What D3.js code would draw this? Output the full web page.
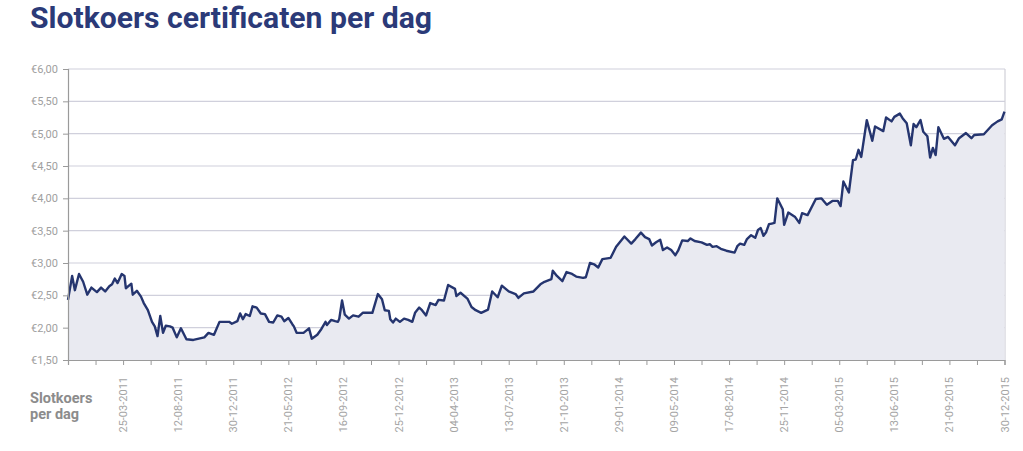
<!DOCTYPE html>
<html><head><meta charset="utf-8">
<script src="https://cdn.jsdelivr.net/npm/d3@7"></script>
<style>body{margin:0;background:#fff}svg{display:block}</style>
</head><body>
<svg id="c" width="1023" height="451"></svg>
<script>
// Observation index (half-week steps) and closing price in euro
const pointIndex = [0,3,5,8,11,14,17,21,24,27,30,32,34,36,39,41,42,46,47,50,53,55,58,61,63,65,67,69,71,74,76,79,82,86,91,95,99,102,106,110,117,119,123,125,127,129,132,134,137,140,143,146,149,152,155,157,160,163,164,166,
171,175,177,181,184,187,188,191,194,196,197,199,201,204,207,211,214,221,225,228,230,233,234,236,238,241,244,247,250,252,255,257,260,263,267,269,273,276,281,282,285,290,293,296,300,305,308,312,315,320,325,327,331,338,
343,346,351,352,355,359,362,366,369,374,376,379,382,385,388,394,398,404,409,412,416,419,422,424,427,430,432,435,438,441,443,446,450,452,455,460,464,466,468,471,474,478,484,486,488,491,493,496,499,501,503,505,507,509,
511,513,515,519,520,523,528,531,533,537,543,547,551,555,559,561,563,567,570,572,574,576,580,584,586,592,594,598,600,604,606,609,612,614,616,619,621,624,626,628,630,632,636,639,644,647,652,656,658,665,671,675,678,680];
const closePrice = [2.43,2.80,2.58,2.83,2.71,2.51,2.62,2.55,2.62,2.56,2.64,2.67,2.76,2.69,2.83,2.80,2.61,2.68,2.51,2.57,2.48,2.38,2.27,2.09,2.02,1.87,2.18,1.92,2.03,2.02,2.00,1.85,1.99,1.82,1.81,1.83,1.85,1.92,1.89,2.09,2.09,2.06,2.10,2.22,2.13,2.21,2.18,2.33,2.31,2.22,2.21,2.09,2.08,2.19,2.17,2.10,2.15,2.05,2.02,1.92,
1.92,1.99,1.83,1.89,1.98,2.09,2.04,2.12,2.10,2.09,2.14,2.42,2.20,2.14,2.19,2.17,2.23,2.23,2.52,2.44,2.27,2.26,2.13,2.08,2.14,2.09,2.14,2.12,2.09,2.23,2.31,2.27,2.19,2.38,2.35,2.43,2.42,2.66,2.60,2.49,2.54,2.45,2.32,2.27,2.23,2.28,2.56,2.47,2.65,2.56,2.52,2.46,2.53,2.56,
2.67,2.71,2.75,2.88,2.80,2.72,2.86,2.83,2.79,2.77,2.78,3.00,2.98,2.93,3.06,3.08,3.25,3.41,3.30,3.37,3.47,3.40,3.37,3.27,3.32,3.36,3.20,3.24,3.20,3.12,3.19,3.35,3.34,3.38,3.34,3.32,3.28,3.29,3.25,3.26,3.22,3.19,3.16,3.26,3.30,3.28,3.37,3.43,3.39,3.51,3.54,3.42,3.48,3.60,
3.61,3.62,4.00,3.83,3.59,3.78,3.71,3.62,3.77,3.74,3.99,4.00,3.90,3.96,3.96,3.88,4.26,4.09,4.59,4.60,4.75,4.64,5.21,4.89,5.11,5.04,5.25,5.19,5.26,5.31,5.24,5.16,4.82,5.15,5.10,5.21,5.03,4.96,4.63,4.78,4.67,5.10,4.92,4.95,4.82,4.93,5.01,4.93,4.98,4.99,5.13,5.19,5.22,5.34];

const yTickValues = [1.5,2,2.5,3,3.5,4,4.5,5,5.5,6];
const xTickIndex = d3.range(0, 681, 20);
const xLabelIndex = d3.range(40, 681, 40);
const xLabels = ["25-03-2011","12-08-2011","30-12-2011","21-05-2012","16-09-2012","25-12-2012","04-04-2013","13-07-2013","21-10-2013","29-01-2014","09-05-2014","17-08-2014","25-11-2014","05-03-2015","13-06-2015","21-09-2015","30-12-2015"];

const data = pointIndex.map((d,i)=>({i:d, v:closePrice[i]}));
const svg = d3.select("#c");
const L = 68, R = 1005, T = 69, B = 360;
const x = d3.scaleLinear().domain([0,680]).range([L, 1004.5]);
const y = d3.scaleLinear().domain([1.5,6]).range([B, T]);
const font = "Roboto, 'DejaVu Sans', sans-serif";

svg.append("text").attr("x",30).attr("y",27.5).attr("font-family",font).attr("font-weight",700)
  .attr("font-size",30).attr("fill","#2b3a78").attr("textLength",402).attr("lengthAdjust","spacingAndGlyphs")
  .text("Slotkoers certificaten per dag");

// grid
svg.append("g").selectAll("line").data(yTickValues.slice(1)).join("line")
  .attr("x1",L).attr("x2",R).attr("y1",d=>y(d)).attr("y2",d=>y(d))
  .attr("stroke","#d0d0dc").attr("stroke-width",1.2);
svg.append("line").attr("x1",R).attr("x2",R).attr("y1",T).attr("y2",B).attr("stroke","#d0d0d8").attr("stroke-width",1.2);

// area + line
svg.append("path").datum(data).attr("fill","#e9eaf1")
  .attr("d",d3.area().x(d=>x(d.i)).y0(B).y1(d=>y(d.v)));
svg.append("path").datum(data).attr("fill","none").attr("stroke","#25356f").attr("stroke-width",2.4)
  .attr("stroke-linejoin","round")
  .attr("d",d3.line().x(d=>x(d.i)).y(d=>y(d.v)));

// y axis
const ya = svg.append("g").attr("transform",`translate(${L},0)`)
  .call(d3.axisLeft(y).tickValues(yTickValues).tickSize(5).tickPadding(5)
  .tickFormat(d=>"€"+d3.format(".2f")(d).replace(".",",")));
ya.select(".domain").attr("stroke","#9a9a9a").attr("stroke-width",1.2);
ya.selectAll(".tick line").attr("stroke","#9a9a9a");
ya.selectAll("text").attr("font-family",font).attr("font-size",11).attr("fill","#a0a0a0");

// x axis
const xa = svg.append("g").attr("transform",`translate(0,${B})`)
  .call(d3.axisBottom(x).tickValues(xTickIndex).tickSize(5).tickFormat(""));
xa.select(".domain").attr("stroke","#9a9a9a").attr("stroke-width",1.2);
xa.selectAll(".tick line").attr("stroke","#9a9a9a");

svg.append("g").selectAll("text").data(xLabelIndex).join("text")
  .attr("transform",d=>`translate(${x(d)+4},377) rotate(-90)`)
  .attr("text-anchor","end").attr("font-family",font).attr("font-size",11).attr("fill","#a4a4a4")
  .text((d,i)=>xLabels[i]);

const lt = svg.append("text").attr("font-family",font).attr("font-weight",700).attr("font-size",14.5).attr("fill","#8c8c8c");
lt.append("tspan").attr("x",30).attr("y",403).text("Slotkoers");
lt.append("tspan").attr("x",30).attr("y",419).text("per dag");
</script>
</body></html>
